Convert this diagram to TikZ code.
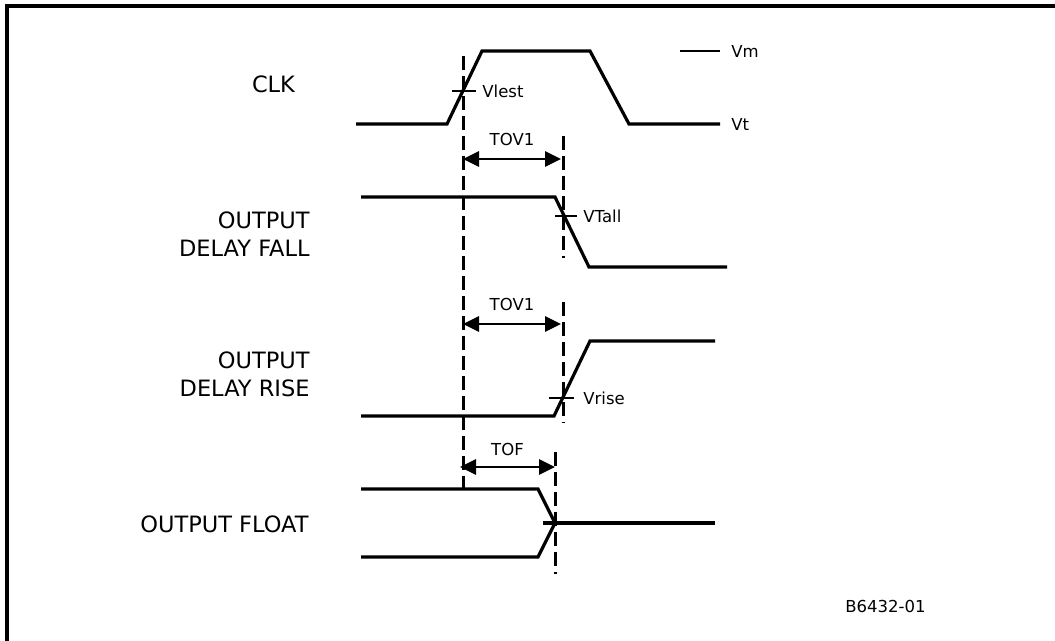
\documentclass[tikz,border=0pt]{standalone}
\usepackage{fontspec}
\setmainfont{DejaVu Sans}
\usetikzlibrary{arrows.meta}

\begin{document}
\begin{tikzpicture}[x=0.5pt, y=-0.5pt, >={Triangle[length=8pt, width=7.5pt]},
  sig/.style={line width=1.6pt, line join=miter},
  guide/.style={line width=1.5pt, dash pattern=on 7pt off 3pt},
  levelmark/.style={line width=0.8pt},
  span/.style={<->, line width=1.4pt},
  big/.style={inner sep=0pt, font=\fontsize{11.25}{14}\selectfont},
  small/.style={inner sep=0pt, font=\fontsize{8.25}{10}\selectfont}]
\useasboundingbox (0,0) rectangle (1055,641);
% frame
\draw[line width=2.3pt] (7,645) -- (7,6) -- (1058,6);
% signal names
\node[big] (clk) at (273.5,84) {CLK};
\node[big, anchor=east, align=right] (fall) at (310,234) {OUTPUT\\DELAY FALL};
\node[big, anchor=east, align=right] (rise) at (310,374) {OUTPUT\\DELAY RISE};
\node[big, anchor=east] (float) at (309,524) {OUTPUT FLOAT};
% clk
\draw[sig] (356,124) -- (447,124) -- (482,51) -- (590,51) -- (629,124) -- (720,124);
\draw[levelmark] (680,51) -- (720,51);
\node[small, anchor=west] (vm) at (731,51) {Vm};
\node[small, anchor=west] (vt) at (731,124) {Vt};
\draw[levelmark] (452,91) -- (476,91);
\node[small, anchor=west] (vlest) at (482,91) {Vlest};
% delay fall
\draw[sig] (361,197) -- (555,197) -- (589,267) -- (727,267);
\draw[levelmark] (555,216) -- (577,216);
\node[small, anchor=west] (vtall) at (583,216) {VTall};
% delay rise
\draw[sig] (361,416) -- (554,416) -- (590,341) -- (715,341);
\draw[levelmark] (549,398) -- (574,398);
\node[small, anchor=west] (vrise) at (583,398) {Vrise};
% float
\draw[sig] (361,489) -- (538,489) -- (555,523) -- (538,557) -- (361,557);
\draw[sig] (543,523) -- (715,523);
% guides
\coordinate (g1t) at (463,56);  \coordinate (g1b) at (463,489);
\coordinate (g2t) at (563,136); \coordinate (g2b) at (563,258);
\coordinate (g3t) at (563,302); \coordinate (g3b) at (563,423);
\coordinate (g4t) at (555,452); \coordinate (g4b) at (555,574);
\draw[guide] (g1t) -- (g1b);
\draw[guide] (g2t) -- (g2b);
\draw[guide] (g3t) -- (g3b);
\draw[guide] (g4t) -- (g4b);
% spans
\draw[span] (g1t |- 0,159) -- node[small, above=6pt] (tov1a) {TOV1} ([xshift=-1pt]g2t |- 0,159);
\draw[span] (g1t |- 0,324) -- node[small, above=6pt] (tov1b) {TOV1} ([xshift=-1pt]g3t |- 0,324);
\draw[span] ([xshift=-1.5pt]g1t |- 0,467) -- node[small, above=5pt] (tof) {TOF} (g4t |- 0,467);
% drawing number
\node[small] (num) at (885.5,606) {B6432-01};
\end{tikzpicture}
\end{document}
